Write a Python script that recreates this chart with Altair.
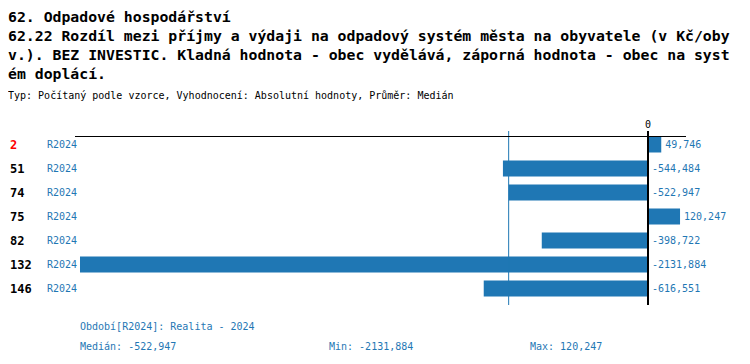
import altair as alt
import pandas as pd
import numpy as np

# ---- data ----
ranks = ["2", "51", "74", "75", "82", "132", "146"]
periods = ["R2024", "R2024", "R2024", "R2024", "R2024", "R2024", "R2024"]
values = [49.746, -544.484, -522.947, 120.247, -398.722, -2131.884, -616.551]
highlight_rank = "2"

title_main = "62. Odpadové hospodářství"
title_sub = ("62.22 Rozdíl mezi příjmy a výdaji na odpadový systém města na obyvatele "
             "(v Kč/obyv.). BEZ INVESTIC. Kladná hodnota - obec vydělává, záporná hodnota "
             "- obec na systém doplácí.")
type_line = "Typ: Počítaný podle vzorce, Vyhodnocení: Absolutní hodnoty, Průměr: Medián"
period_line = "Období[R2024]: Realita - 2024"


def fmt(v):
    return f"{v:.3f}".replace(".", ",")


median_v = float(np.median(values))
min_v = float(np.min(values))
max_v = float(np.max(values))

df = pd.DataFrame({
    "idx": list(range(len(ranks))),
    "rank": ranks,
    "period": periods,
    "value": values,
    "zero": [0.0] * len(values),
    "xpos": [max(v, 0.0) for v in values],
    "label": [fmt(v) for v in values],
})

BLUE = "#1f77b4"
MONO = "DejaVu Sans Mono"
W, H = 734, 348

xs = alt.Scale(domain=[-2402.12, 352.81], nice=False, zero=False, padding=0)
ys = alt.Scale(domain=[-5.6875, 8.8125], nice=False, zero=False, reverse=True, padding=0)

base = alt.Chart(df)

bars = base.mark_bar(orient="horizontal", size=16, color=BLUE).encode(
    x=alt.X("value:Q", scale=xs, axis=None),
    x2="zero:Q",
    y=alt.Y("idx:Q", scale=ys, axis=None),
)

rank_text = base.mark_text(font=MONO, fontSize=12, fontWeight="bold", align="left",
                           baseline="middle").encode(
    x=alt.value(2),
    y=alt.Y("idx:Q", scale=ys, axis=None),
    text="rank:N",
    color=alt.condition(alt.datum.rank == highlight_rank, alt.value("#ff0000"), alt.value("#000000")),
)

period_text = base.mark_text(font=MONO, fontSize=10, align="left", baseline="middle",
                             color=BLUE).encode(
    x=alt.value(39),
    y=alt.Y("idx:Q", scale=ys, axis=None),
    text="period:N",
)

value_text = base.mark_text(font=MONO, fontSize=10, align="left", baseline="middle",
                            color=BLUE, dx=4).encode(
    x=alt.X("xpos:Q", scale=xs, axis=None),
    y=alt.Y("idx:Q", scale=ys, axis=None),
    text="label:N",
)

ref = pd.DataFrame({"v": [0.0], "m": [median_v]})

zero_rule = alt.Chart(ref).mark_rule(color="#000000", strokeWidth=2).encode(
    x=alt.X("v:Q", scale=xs, axis=None),
    y=alt.value(123), y2=alt.value(297),
)
median_rule = alt.Chart(ref).mark_rule(color=BLUE, strokeWidth=1).encode(
    x=alt.X("m:Q", scale=xs, axis=None),
    y=alt.value(123), y2=alt.value(297),
)
top_rule = alt.Chart(ref).mark_rule(color="#000000", strokeWidth=1).encode(
    x=alt.value(67), x2=alt.value(678), y=alt.value(128.5),
)
zero_label = alt.Chart(ref).mark_text(font=MONO, fontSize=10, align="center",
                                      baseline="middle", color="#000000").encode(
    x=alt.X("v:Q", scale=xs, axis=None),
    y=alt.value(117),
    text=alt.value("0"),
)


def single(text, x, y, size=10, weight="normal", color="#000000", baseline="alphabetic"):
    return alt.Chart(pd.DataFrame({"t": [text]})).mark_text(
        font=MONO, fontSize=size, fontWeight=weight, align="left",
        baseline=baseline, color=color,
    ).encode(x=alt.value(x), y=alt.value(y), text="t:N")


CH = 81
sub_lines = [title_sub[i:i + CH] for i in range(0, len(title_sub), CH)]
title_layers = [single(title_main, 0, 13.5, size=14.8, weight="bold")]
for i, line in enumerate(sub_lines):
    title_layers.append(single(line, 0, 32.5 + 19 * i, size=14.8, weight="bold"))
title_layers.append(single(type_line, 0, 91, size=10))

footer = [
    single(period_line, 72, 322, color=BLUE),
    single(f"Medián: {fmt(median_v)}", 72, 342, color=BLUE),
    single(f"Min: {fmt(min_v)}", 321, 342, color=BLUE),
    single(f"Max: {fmt(max_v)}", 522, 342, color=BLUE),
]

chart = alt.layer(
    bars, median_rule, zero_rule, top_rule, zero_label,
    rank_text, period_text, value_text,
    *title_layers, *footer,
).properties(
    width=W, height=H, padding=0, autosize=alt.AutoSizeParams(type="none"),
).configure_view(stroke=None)

chart.save("out.html", embed_options={"renderer": "svg", "actions": False})
